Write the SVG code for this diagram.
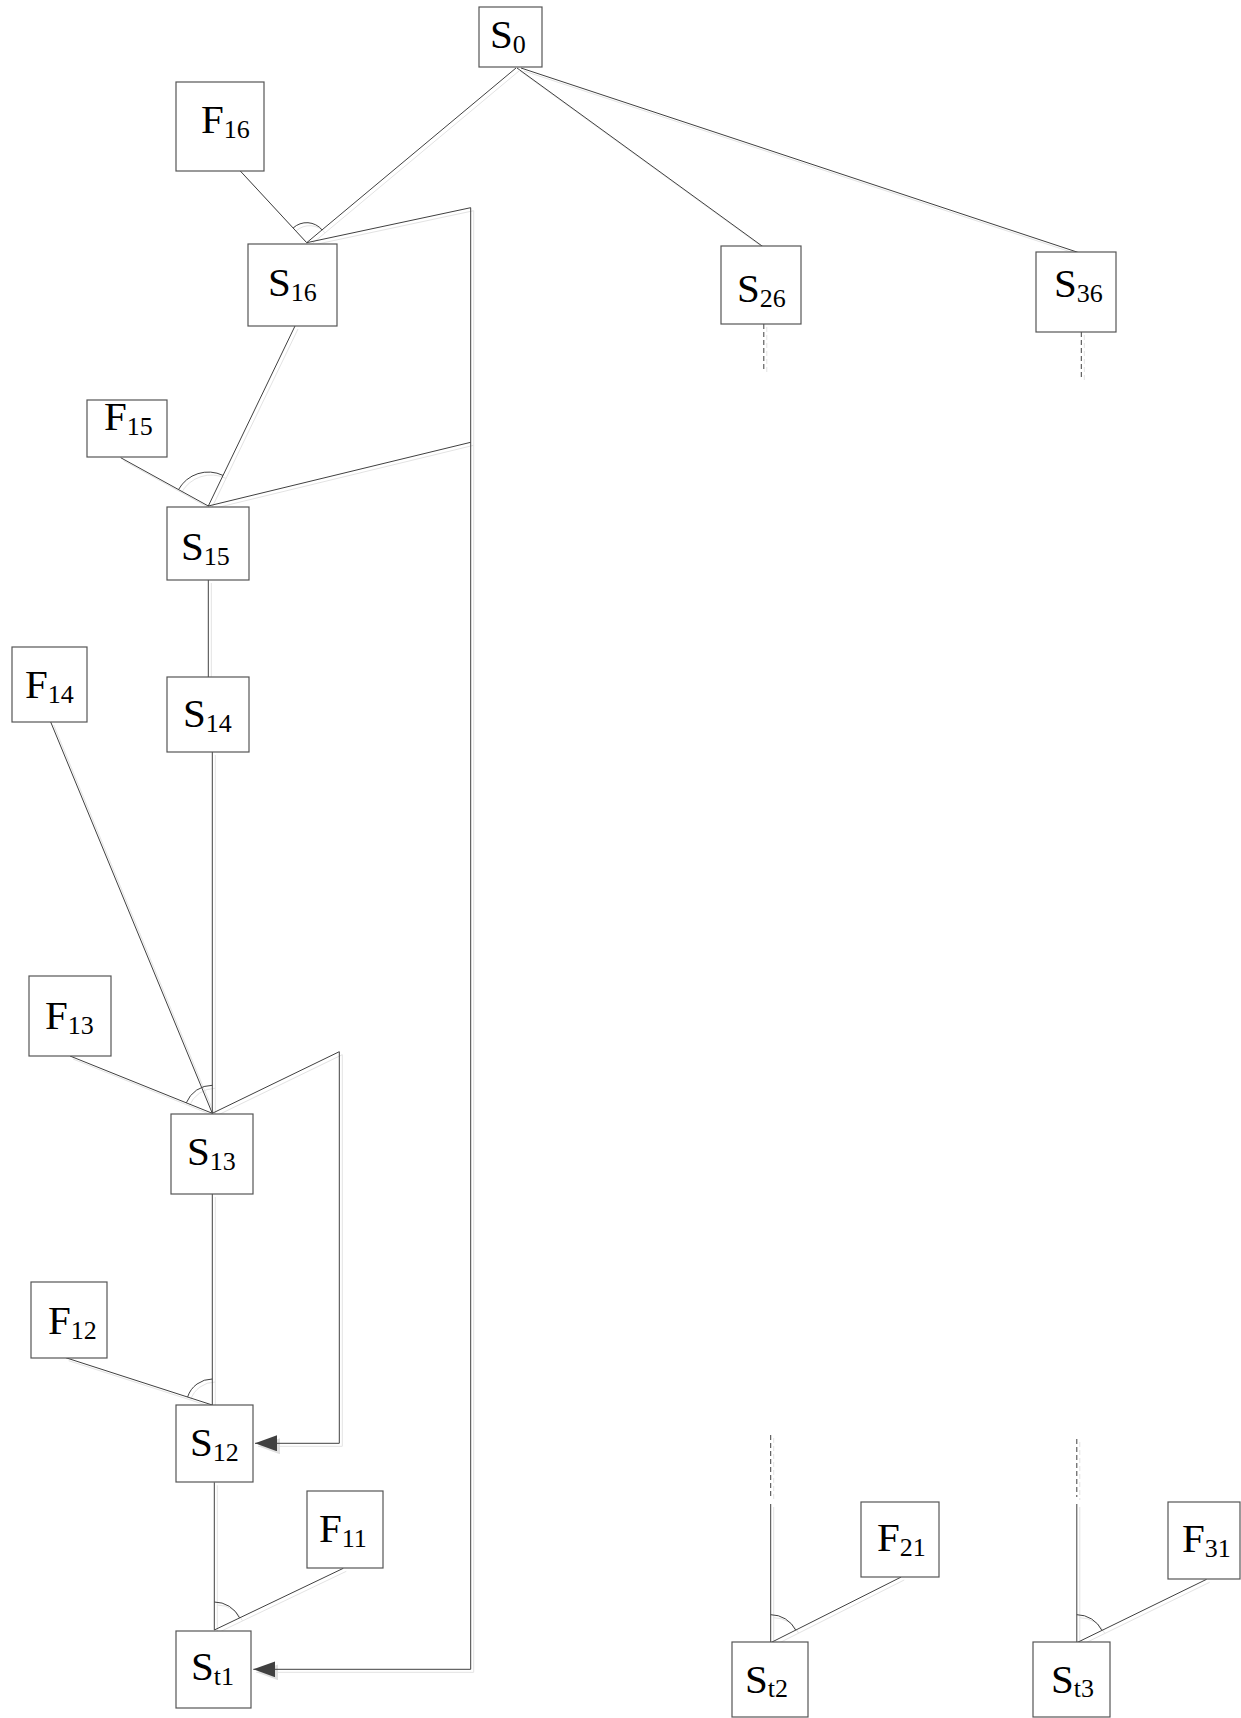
<svg xmlns="http://www.w3.org/2000/svg" xmlns:xlink="http://www.w3.org/1999/xlink" width="1241" height="1718" viewBox="0 0 1241 1718">
<style>
.box{fill:#fff;stroke:#555;stroke-width:1.2}
.lbl{font-family:"Liberation Serif","Times New Roman",serif;font-size:41px;fill:#000}
.sub{font-size:26px}
</style>
<defs>
<marker id="arr" markerUnits="userSpaceOnUse" markerWidth="24" markerHeight="18" refX="22" refY="8" orient="auto">
<path d="M0,0 L22,8 L0,16 Z" fill="#404040"/>
</marker>
<marker id="arrS" markerUnits="userSpaceOnUse" markerWidth="24" markerHeight="18" refX="22" refY="8" orient="auto">
<path d="M0,0 L22,8 L0,16 Z" fill="#e0e0e0"/>
</marker>
</defs>
<rect width="1241" height="1718" fill="#fff"/>
<g id="connectors" fill="none">
<g id="shadow" stroke="#e3e3e3" stroke-width="1" transform="translate(3,3)">
<use xlink:href="#plain" href="#plain"/>
<use xlink:href="#arrowed" href="#arrowed" marker-end="url(#arrS)"/>
</g>
<g stroke="#404040" stroke-width="1">
<g id="plain">
<path d="M516,68 L306.7,242.7"/>
<path d="M517,68 L763,246.7"/>
<path d="M521,68 L1077.8,252.3"/>
<path d="M240.3,171 L306.7,242.7"/>
<path d="M293.1,228 A20,20 0 0 1 322.1,229.9"/>
<path d="M295,326 L208.3,506"/>
<path d="M120.7,457.7 L208.3,506"/>
<path d="M208.3,506 L470.7,442.3"/>
<path d="M178.5,489.6 A34,34 0 0 1 223,475.4"/>
<path d="M208.3,580 L208.3,677"/>
<path d="M212.3,752 L212.3,1113.3"/>
<path d="M50.7,722 L212.3,1113.3"/>
<path d="M70,1056 L212.3,1113.3"/>
<path d="M186.3,1102.8 A28,28 0 0 1 212.3,1085.3"/>
<path d="M212.3,1194 L212.3,1405"/>
<path d="M65.7,1357.7 L212.3,1405"/>
<path d="M187.6,1397 A26,26 0 0 1 212.3,1379"/>
<path d="M214.3,1482.3 L214.3,1630"/>
<path d="M343.3,1568.3 L214.3,1630"/>
<path d="M214.3,1602 A28,28 0 0 1 239.6,1617.9"/>
<path d="M763.8,324 L763.8,369" stroke-dasharray="5,3"/>
<path d="M1081.3,332 L1081.3,378" stroke-dasharray="5,3"/>
<path d="M770.7,1435 L770.7,1497" stroke-dasharray="5,3"/>
<path d="M770.7,1504 L770.7,1642.7"/>
<path d="M901.2,1577 L770.7,1642.7"/>
<path d="M770.7,1614.7 A28,28 0 0 1 795.7,1630.1"/>
<path d="M1076.8,1439 L1076.8,1497" stroke-dasharray="5,3"/>
<path d="M1076.8,1504 L1076.8,1642.7"/>
<path d="M1206.6,1579.3 L1076.8,1642.7"/>
<path d="M1076.8,1614.7 A28,28 0 0 1 1101.9,1630.4"/>
</g>
<g marker-end="url(#arr)">
<g id="arrowed">
<path d="M306.7,242.7 L470.7,207.7 L470.7,1669.3 L253.3,1669.3"/>
<path d="M212.3,1113.3 L339.3,1051.7 L339.3,1443.3 L255,1443.3"/>
</g>
</g>
</g>
</g>
<g id="S0"><rect class="box" x="479" y="7" width="63" height="60"/><text class="lbl" x="490" y="48">S<tspan class="sub" dy="5">0</tspan></text></g>
<g id="F16"><rect class="box" x="176" y="82" width="88" height="89"/><text class="lbl" x="201" y="133">F<tspan class="sub" dy="5">16</tspan></text></g>
<g id="S16"><rect class="box" x="248" y="244" width="89" height="82"/><text class="lbl" x="268" y="296">S<tspan class="sub" dy="5">16</tspan></text></g>
<g id="F15"><rect class="box" x="87" y="400" width="80" height="57"/><text class="lbl" x="104" y="430">F<tspan class="sub" dy="5">15</tspan></text></g>
<g id="S15"><rect class="box" x="167" y="507" width="82" height="73"/><text class="lbl" x="181" y="560">S<tspan class="sub" dy="5">15</tspan></text></g>
<g id="S14"><rect class="box" x="167" y="677" width="82" height="75"/><text class="lbl" x="183" y="727">S<tspan class="sub" dy="5">14</tspan></text></g>
<g id="F14"><rect class="box" x="12" y="647" width="75" height="75"/><text class="lbl" x="25" y="698">F<tspan class="sub" dy="5">14</tspan></text></g>
<g id="F13"><rect class="box" x="29" y="976" width="82" height="80"/><text class="lbl" x="45" y="1029">F<tspan class="sub" dy="5">13</tspan></text></g>
<g id="S13"><rect class="box" x="171" y="1114" width="82" height="80"/><text class="lbl" x="187" y="1165">S<tspan class="sub" dy="5">13</tspan></text></g>
<g id="F12"><rect class="box" x="31" y="1282" width="76" height="76"/><text class="lbl" x="48" y="1334">F<tspan class="sub" dy="5">12</tspan></text></g>
<g id="S12"><rect class="box" x="176" y="1405" width="77" height="77"/><text class="lbl" x="190" y="1456">S<tspan class="sub" dy="5">12</tspan></text></g>
<g id="F11"><rect class="box" x="307" y="1491" width="76" height="77"/><text class="lbl" x="319" y="1542">F<tspan class="sub" dy="5">11</tspan></text></g>
<g id="St1"><rect class="box" x="176" y="1631" width="75" height="77"/><text class="lbl" x="191" y="1680">S<tspan class="sub" dy="5">t1</tspan></text></g>
<g id="S26"><rect class="box" x="721" y="246" width="80" height="78"/><text class="lbl" x="737" y="302">S<tspan class="sub" dy="5">26</tspan></text></g>
<g id="S36"><rect class="box" x="1036" y="252" width="80" height="80"/><text class="lbl" x="1054" y="297">S<tspan class="sub" dy="5">36</tspan></text></g>
<g id="St2"><rect class="box" x="732" y="1642" width="76" height="75"/><text class="lbl" x="745" y="1693">S<tspan class="sub" dy="4">t2</tspan></text></g>
<g id="F21"><rect class="box" x="861" y="1502" width="78" height="75"/><text class="lbl" x="877" y="1551">F<tspan class="sub" dy="5">21</tspan></text></g>
<g id="St3"><rect class="box" x="1033" y="1642" width="77" height="75"/><text class="lbl" x="1051" y="1693">S<tspan class="sub" dy="4">t3</tspan></text></g>
<g id="F31"><rect class="box" x="1168" y="1502" width="72" height="77"/><text class="lbl" x="1182" y="1552">F<tspan class="sub" dy="5">31</tspan></text></g>
</svg>
